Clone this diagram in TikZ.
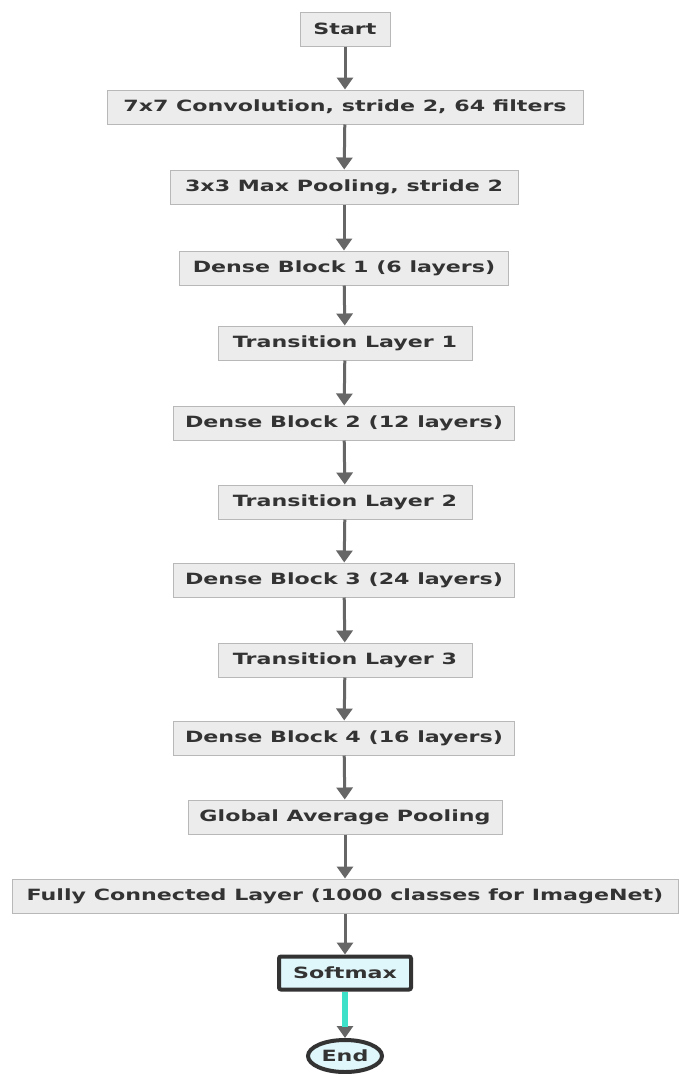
\documentclass[tikz,border=0pt]{standalone}
\usepackage{fontspec}
\setmainfont{DejaVu Sans}[FakeStretch=1.43]
\usetikzlibrary{arrows.meta,shapes.geometric,calc}
\definecolor{boxfill}{HTML}{ECECEC}
\definecolor{boxline}{HTML}{B8B8B8}
\definecolor{arrowc}{HTML}{666666}
\definecolor{cyanfill}{HTML}{DFF6FA}
\definecolor{darkline}{HTML}{333333}
\definecolor{turq}{HTML}{3DE0C8}
\definecolor{txt}{HTML}{333333}
\tikzset{
  x=1pt,y=-1pt,
  box/.style={draw=boxline,line width=1pt,fill=boxfill,inner sep=0pt,minimum height=34pt,font=\fontsize{15.5}{17}\selectfont\bfseries,text=txt},
  term/.style={draw=darkline,line width=4pt,fill=cyanfill,inner sep=0pt,font=\fontsize{15.5}{17}\selectfont\bfseries,text=txt},
  flow/.style={draw=arrowc,line width=3pt,-{Triangle[width=16pt,length=12pt]}},
}
\begin{document}
\begin{tikzpicture}
\useasboundingbox[fill=white] (0,0) rectangle (683,1074);
\node[box,minimum width=90pt]  (start) at (345,29) {Start};
\node[box,minimum width=476pt] (conv)  at (345,107) {7x7 Convolution, stride 2, 64 filters};
\node[box,minimum width=348pt] (pool)  at (344,187) {3x3 Max Pooling, stride 2};
\node[box,minimum width=329pt] (d1)    at (344,268) {Dense Block 1 (6 layers)};
\node[box,minimum width=254pt] (t1)    at (345,343) {Transition Layer 1};
\node[box,minimum width=341pt] (d2)    at (344,423) {Dense Block 2 (12 layers)};
\node[box,minimum width=254pt] (t2)    at (345,502) {Transition Layer 2};
\node[box,minimum width=341pt] (d3)    at (344,580) {Dense Block 3 (24 layers)};
\node[box,minimum width=254pt] (t3)    at (345,660) {Transition Layer 3};
\node[box,minimum width=341pt] (d4)    at (344,738) {Dense Block 4 (16 layers)};
\node[box,minimum width=314pt] (gap)   at (345,817) {Global Average Pooling};
\node[box,minimum width=666pt] (fc)    at (345,896) {Fully Connected Layer (1000 classes for ImageNet)};
\node[term,rounded corners=2pt,minimum width=132pt,minimum height=33pt] (soft) at (345,973) {Softmax};
\node[term,ellipse,minimum width=74pt,minimum height=32pt] (end) at (345,1056) {End};
\draw[flow] (start) -- (conv);
\draw[flow] (conv) -- (pool);
\draw[flow] (pool) -- (d1);
\draw[flow] (d1) -- (t1);
\draw[flow] (t1) -- (d2);
\draw[flow] (d2) -- (t2);
\draw[flow] (t2) -- (d3);
\draw[flow] (d3) -- (t3);
\draw[flow] (t3) -- (d4);
\draw[flow] (d4) -- (gap);
\draw[flow] (gap) -- (fc);
\draw[flow] (fc) -- (soft);
\draw[flow] (soft) -- (end);
\coordinate (tipstart) at ($(end.north)+(0,-11)$);
\draw[draw=turq,line width=6pt] (soft.south) -- (tipstart);
\end{tikzpicture}
\end{document}
